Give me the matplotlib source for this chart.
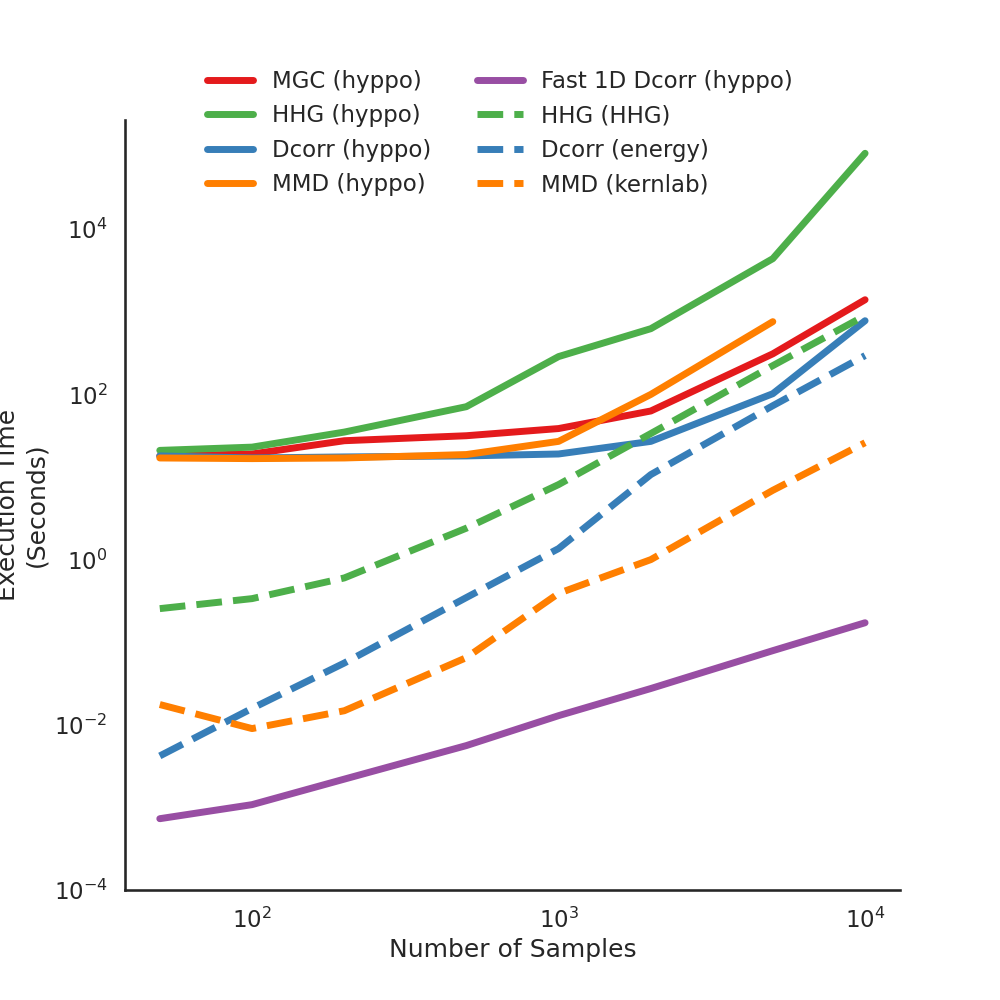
import matplotlib
matplotlib.use("Agg")
import matplotlib.pyplot as plt
import seaborn as sns
import numpy as np

sns.set_theme(style="white", context="talk")

n_samples = [50, 100, 200, 500, 1000, 2000, 5000, 10000]
mgc_hyppo = [18, 19, 27.5, 31.6, 38.6, 63, 310, 1400]
hhg_hyppo = [21, 23, 35, 71, 287, 625, 4400, 83000]
dcorr_hyppo = [18, 17, 17.5, 18, 19, 27, 102, 780]
mmd_hyppo = [17, 16.7, 17, 18.7, 27, 100, 760]
fast_dcorr_hyppo = [7.3e-4, 1.08e-3, 2.2e-3, 5.6e-3, 0.0129, 0.0275, 0.079, 0.172]
hhg_hhg = [0.255, 0.337, 0.6, 2.4, 8.1, 33.6, 223, 900]
dcorr_energy = [0.0042, 0.0158, 0.056, 0.347, 1.36, 10.7, 73, 295]
mmd_kernlab = [0.0176, 0.0090, 0.0148, 0.065, 0.39, 1.0, 6.9, 26]

red, blue, green, purple, orange = "#e41a1c", "#377eb8", "#4daf4a", "#984ea3", "#ff7f00"

fig, ax = plt.subplots(figsize=(10, 10), dpi=100)
lw = 5
ax.plot(n_samples, mgc_hyppo, color=red, lw=lw, label="MGC (hyppo)")
ax.plot(n_samples, hhg_hyppo, color=green, lw=lw, label="HHG (hyppo)")
ax.plot(n_samples, dcorr_hyppo, color=blue, lw=lw, label="Dcorr (hyppo)")
ax.plot(n_samples[:len(mmd_hyppo)], mmd_hyppo, color=orange, lw=lw, label="MMD (hyppo)")
ax.plot(n_samples, fast_dcorr_hyppo, color=purple, lw=lw, label="Fast 1D Dcorr (hyppo)")
ax.plot(n_samples, hhg_hhg, color=green, lw=lw, ls="--", label="HHG (HHG)")
ax.plot(n_samples, dcorr_energy, color=blue, lw=lw, ls="--", label="Dcorr (energy)")
ax.plot(n_samples, mmd_kernlab, color=orange, lw=lw, ls="--", label="MMD (kernlab)")

ax.set_xscale("log")
ax.set_yscale("log")
ax.set_xlim(38.5, 13000)
ax.set_ylim(1e-4, 2.1e5)
ax.set_yticks([1e-4, 1e-2, 1e0, 1e2, 1e4])
ax.set_xticks([1e2, 1e3, 1e4])
ax.minorticks_off()
ax.set_xlabel("Number of Samples")
ax.set_ylabel("Execution Time\n(Seconds)")
sns.despine(ax=ax)
ax.legend(ncol=2, loc="upper center", bbox_to_anchor=(0.5, 0.951),
          bbox_transform=fig.transFigure, frameon=False)
fig.savefig("out.png", dpi=100)
